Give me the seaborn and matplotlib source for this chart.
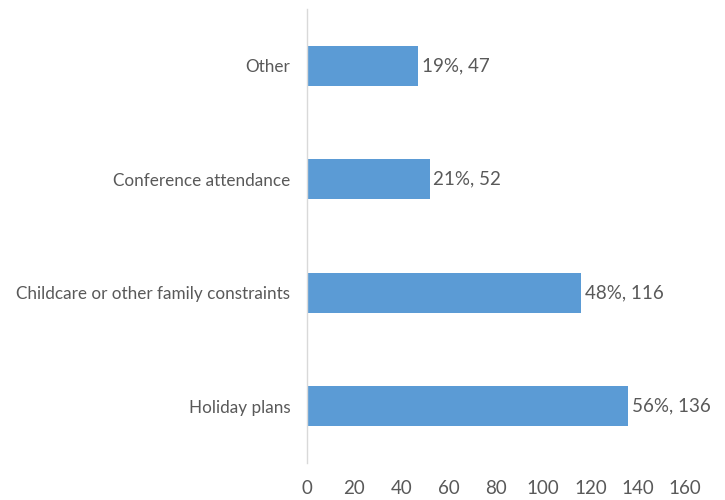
import matplotlib
matplotlib.use("Agg")
import matplotlib.pyplot as plt
import seaborn as sns
import pandas as pd

categories = ["Other", "Conference attendance", "Childcare or other family constraints", "Holiday plans"]
counts = [47, 52, 116, 136]
percents = [19, 21, 48, 56]
xticks = [0, 20, 40, 60, 80, 100, 120, 140, 160]

sns.set_theme(style="white")
plt.rcParams['font.family'] = ['Lato', 'DejaVu Sans']

df = pd.DataFrame({"category": categories, "count": counts})

fig = plt.figure(figsize=(7.25, 5), dpi=100)
ax = fig.add_axes([307/725, 1-463/500, (685-307)/725, (463-9)/500])
sns.barplot(data=df, x="count", y="category", orient="h", color="#5B9BD5",
            saturation=1, width=0.35, ax=ax, edgecolor="none")

grey = "#595959"
for i, (c, p) in enumerate(zip(counts, percents)):
    ax.text(c + 1.5, i, f"{p}%, {c}", va="center", ha="left", fontsize=13.5, color=grey)

ax.set_xlim(0, 160)
ax.set_ylim(3.5, -0.5)
ax.set_xticks(xticks)
ax.set_xticklabels([str(t) for t in xticks], fontsize=13.5, color=grey)
ax.tick_params(axis="x", length=0, pad=12)
ax.tick_params(axis="y", length=0, pad=12, labelsize=12.3, labelcolor=grey)
ax.set_xlabel("")
ax.set_ylabel("")
for s in ["top", "right", "bottom"]:
    ax.spines[s].set_visible(False)
ax.spines["left"].set_color("#D9D9D9")
ax.spines["left"].set_linewidth(1)

fig.savefig("out.png", dpi=100)
